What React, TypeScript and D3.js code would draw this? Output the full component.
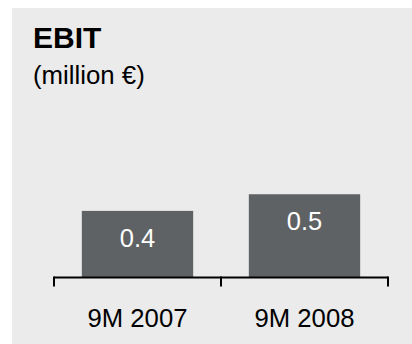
import React from "react";
import * as d3 from "d3";

const categories = ["9M 2007", "9M 2008"];
const values = [0.4, 0.5];
const valueLabels = ["0.4", "0.5"];
const title = "EBIT";
const subtitle = "(million €)";

export default function App() {
  const W = 412;
  const H = 344;
  const axisY = 277.5;
  const x = d3
    .scaleBand<string>()
    .domain(categories)
    .range([54, 388])
    .paddingInner(1 / 3)
    .paddingOuter(1 / 6);
  const y = d3.scaleLinear().domain([0, 1]).range([axisY, axisY - 166.5]);
  const step = x.step();
  const start = x.range()[0];
  const tickXs = d3.range(categories.length + 1).map((i) => start + i * step);
  const font = "'Liberation Sans', Arial, Helvetica, sans-serif";

  return (
    <svg
      width={W}
      height={H}
      style={{ position: "absolute", left: 0, top: 0, display: "block" }}
    >
      <rect x={12} y={8} width={W - 12} height={H - 8} fill="#eaebea" />
      <text x={33} y={48} fontFamily={font} fontWeight="bold" fontSize={30} fill="#000">
        {title}
      </text>
      <text x={33} y={84} fontFamily={font} fontSize={25.8} fill="#000">
        {subtitle}
      </text>
      {categories.map((c, i) => (
        <g key={c}>
          <rect
            x={x(c)}
            y={y(values[i])}
            width={x.bandwidth()}
            height={axisY - y(values[i])}
            fill="#5f6264"
          />
          <text
            x={(x(c) as number) + x.bandwidth() / 2}
            y={y(values[i]) + 36}
            textAnchor="middle"
            fontFamily={font}
            fontSize={25.5}
            fill="#ffffff"
          >
            {valueLabels[i]}
          </text>
          <text
            x={(x(c) as number) + x.bandwidth() / 2}
            y={326.5}
            textAnchor="middle"
            fontFamily={font}
            fontSize={25.7}
            fill="#000"
          >
            {c}
          </text>
        </g>
      ))}
      <line x1={start} x2={start + step * categories.length} y1={axisY} y2={axisY} stroke="#000" strokeWidth={2} />
      {tickXs.map((tx, i) => (
        <line key={i} x1={tx} x2={tx} y1={axisY - 1} y2={axisY + 9} stroke="#000" strokeWidth={2} />
      ))}
    </svg>
  );
}
